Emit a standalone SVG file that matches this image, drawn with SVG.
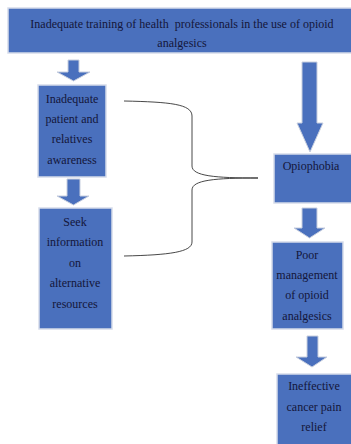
<svg xmlns="http://www.w3.org/2000/svg" width="351" height="444" viewBox="0 0 351 444">
<style>
.box{fill:#4a70bd;stroke:#d6dcea;stroke-width:1.5}
.arr{fill:#4a70bd;stroke:#c8cfdf;stroke-width:1}
text{font-family:"Liberation Serif","Times New Roman",serif;font-size:12px;fill:#14163a;text-anchor:middle;white-space:pre}
.brace{fill:none;stroke:#333;stroke-width:0.9}
</style>
<rect width="351" height="444" fill="#fff"/>
<g id="connectors">
<polygon class="arr" points="68,60 79,60 79,72 90,72 73.5,81 57,72 68,72"/>
<polygon class="arr" points="67,179 80,179 80,196 89,196 73.5,205 57,196 67,196"/>
<polygon class="arr" points="302,62 317,62 317,123 323,123 310,152 297,123 302,123"/>
<polygon class="arr" points="302,208 317,208 317,228 325,228 309.5,238 294,228 302,228"/>
<polygon class="arr" points="307,336 318,336 318,357 327,357 312,367 296,357 307,357"/>
<path class="brace" d="M124,101 C170,102 192,104 192,116 L192,166 C192,176 215,178 258,178 C215,178 192,180 192,190 L192,242 C192,252 170,255 124,256"/>
</g>
<g id="n1">
<rect class="box" x="8" y="8" width="345" height="45"/>
<text x="182" y="28" xml:space="preserve">Inadequate training of health  professionals in the use of opioid</text>
<text x="182" y="47">analgesics</text>
</g>
<g id="n2">
<rect class="box" x="38" y="85" width="68" height="92"/>
<text x="72" y="103">Inadequate</text>
<text x="72" y="123">patient and</text>
<text x="72" y="143">relatives</text>
<text x="72" y="164">awareness</text>
</g>
<g id="n3">
<rect class="box" x="39" y="208" width="73" height="121"/>
<text x="75" y="226">Seek</text>
<text x="75" y="246">information</text>
<text x="75" y="267">on</text>
<text x="75" y="287">alternative</text>
<text x="75" y="308">resources</text>
</g>
<g id="n4">
<rect class="box" x="274" y="154" width="78" height="49"/>
<text x="311" y="170">Opiophobia</text>
</g>
<g id="n5">
<rect class="box" x="272" y="242" width="71" height="87"/>
<text x="307" y="259">Poor</text>
<text x="307" y="279">management</text>
<text x="307" y="299">of opioid</text>
<text x="307" y="320">analgesics</text>
</g>
<g id="n6">
<rect class="box" x="277" y="374" width="76" height="75"/>
<text x="314" y="390">Ineffective</text>
<text x="314" y="411">cancer pain</text>
<text x="314" y="431">relief</text>
</g>
</svg>
